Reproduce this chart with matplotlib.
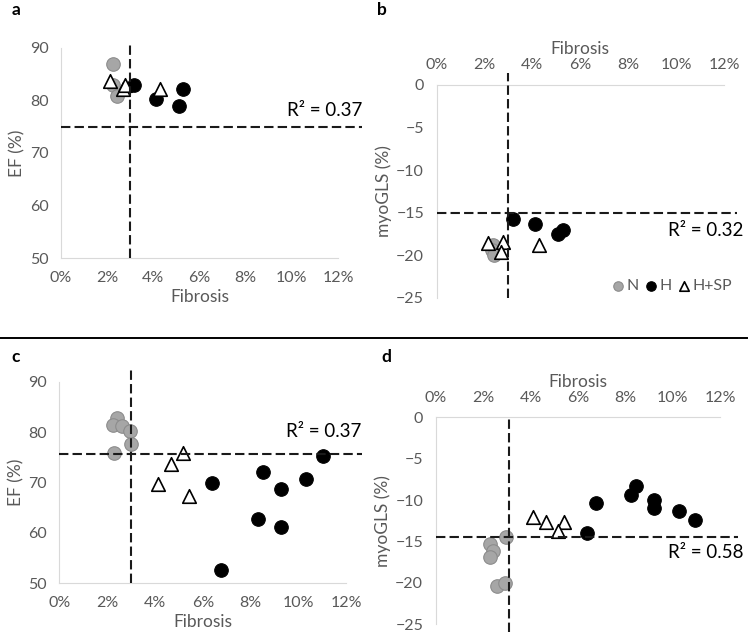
import matplotlib
matplotlib.use('Agg')
import matplotlib.pyplot as plt
from matplotlib.lines import Line2D

plt.rcParams['font.family'] = ['Lato', 'DejaVu Sans']

# panel a: EF vs fibrosis (top row)
a_n_x = [2.27, 2.27, 2.44]
a_n_y = [86.9, 82.9, 80.9]
a_h_x = [3.18, 4.12, 5.30, 5.11]
a_h_y = [82.9, 80.3, 82.1, 78.9]
a_sp_x = [2.12, 2.70, 2.79, 4.29]
a_sp_y = [83.7, 82.1, 82.9, 82.1]

# panel b: myoGLS vs fibrosis (top row)
b_n_x = [2.35, 2.30, 2.38]
b_n_y = [-18.8, -19.4, -20.0]
b_h_x = [3.20, 4.13, 5.08, 5.28]
b_h_y = [-15.8, -16.3, -17.5, -17.1]
b_sp_x = [2.16, 2.78, 2.69, 4.27]
b_sp_y = [-18.6, -18.4, -19.6, -18.8]

# panel c: EF vs fibrosis (bottom row)
c_n_x = [2.42, 2.23, 2.60, 2.95, 2.98, 2.29]
c_n_y = [82.7, 81.5, 81.2, 80.2, 77.6, 75.8]
c_h_x = [6.37, 6.74, 8.50, 8.30, 9.27, 9.27, 10.31, 11.01]
c_h_y = [70.0, 52.6, 72.0, 62.8, 68.7, 61.2, 70.7, 75.3]
c_sp_x = [5.15, 4.65, 4.13, 5.43]
c_sp_y = [75.8, 73.6, 69.7, 67.3]

# panel d: myoGLS vs fibrosis (bottom row)
d_n_x = [2.97, 2.29, 2.43, 2.29, 2.57, 2.92]
d_n_y = [-14.5, -15.3, -16.1, -16.9, -20.4, -20.05]
d_h_x = [6.38, 6.75, 8.26, 8.47, 9.20, 9.20, 10.26, 10.96]
d_h_y = [-14.0, -10.3, -9.4, -8.3, -10.0, -10.9, -11.3, -12.4]
d_sp_x = [4.10, 4.64, 5.41, 5.15]
d_sp_y = [-12.1, -12.6, -12.7, -13.7]

x_ticks = [0, 2, 4, 6, 8, 10, 12]
x_labels = ['0%', '2%', '4%', '6%', '8%', '10%', '12%']
ef_ticks = [50, 60, 70, 80, 90]
gls_ticks = [-25, -20, -15, -10, -5, 0]

GRAY_TXT = '#595959'
GRAY_AX = '#d9d9d9'


def scatter_groups(ax, nx, ny, hx, hy, spx, spy):
    ax.scatter(nx, ny, s=95, color='#a6a6a6', edgecolor='#8c8c8c', linewidth=0.8, zorder=3, label='N')
    ax.scatter(hx, hy, s=95, color='black', edgecolor='black', linewidth=0.8, zorder=3, label='H')
    ax.scatter(spx, spy, s=95, marker='^', color='white', edgecolor='black', linewidth=1.2, zorder=4, label='H+SP')


def style_axis(ax, top_x, yticks, ylabel):
    ax.set_xlim(0, 12)
    ax.set_xticks(x_ticks)
    ax.set_xticklabels(x_labels)
    ax.set_yticks(yticks)
    ax.set_ylim(yticks[0], yticks[-1])
    for side in ['right', 'top', 'bottom', 'left']:
        ax.spines[side].set_visible(False)
    ax.spines['left'].set_visible(True)
    ax.spines['left'].set_color(GRAY_AX)
    xs = 'top' if top_x else 'bottom'
    ax.spines[xs].set_visible(True)
    ax.spines[xs].set_color(GRAY_AX)
    ax.tick_params(length=0, labelsize=11.5, colors=GRAY_TXT)
    ax.tick_params(axis='x', pad=9)
    ax.tick_params(axis='y', pad=9)
    if top_x:
        ax.xaxis.tick_top()
        ax.xaxis.set_label_position('top')
    ax.set_xlabel('Fibrosis', fontsize=12.5, color=GRAY_TXT, labelpad=3)
    ax.set_ylabel(ylabel, fontsize=12.5, color=GRAY_TXT, labelpad=3)


def cut_lines(ax, xcut, ycut, vmin, vmax, hmax):
    ax.axvline(xcut, ymin=vmin, ymax=vmax, color='#1a1a1a', lw=1.5, linestyle=(0, (4.5, 2.0)), clip_on=False, zorder=5)
    ax.axhline(ycut, xmin=0, xmax=hmax, color='#1a1a1a', lw=1.5, linestyle=(0, (4.5, 2.0)), clip_on=False, zorder=5)


def main():
    fig = plt.figure(figsize=(7.49, 6.35), dpi=100)

    ax_a = fig.add_axes([0.0814, 0.5937, 0.3698, 0.3312])
    ax_b = fig.add_axes([0.5828, 0.5312, 0.3838, 0.3350])
    ax_c = fig.add_axes([0.0794, 0.0814, 0.3829, 0.3175])
    ax_d = fig.add_axes([0.5817, 0.0169, 0.3796, 0.3260])

    scatter_groups(ax_a, a_n_x, a_n_y, a_h_x, a_h_y, a_sp_x, a_sp_y)
    style_axis(ax_a, False, ef_ticks, 'EF (%)')
    cut_lines(ax_a, 3.0, 75.0, 0, 1.028, 1.086)
    ax_a.text(0.815, 0.70, 'R² = 0.37', transform=ax_a.transAxes, fontsize=13.5, ha='left', va='center')

    scatter_groups(ax_b, b_n_x, b_n_y, b_h_x, b_h_y, b_sp_x, b_sp_y)
    style_axis(ax_b, True, gls_ticks, 'myoGLS (%)')
    cut_lines(ax_b, 3.0, -15.0, 0, 1.058, 1.044)
    ax_b.text(0.805, 0.318, 'R² = 0.32', transform=ax_b.transAxes, fontsize=13.5, ha='left', va='center')
    ax_b.legend(loc='center right', bbox_to_anchor=(1.055, 0.055), ncol=3, frameon=False,
                markerscale=0.7, handletextpad=0.15, columnspacing=0.45, borderpad=0,
                handlelength=0.7, fontsize=11.5, labelcolor=GRAY_TXT)

    scatter_groups(ax_c, c_n_x, c_n_y, c_h_x, c_h_y, c_sp_x, c_sp_y)
    style_axis(ax_c, False, ef_ticks, 'EF (%)')
    cut_lines(ax_c, 3.0, 75.6, 0, 1.058, 1.054)
    ax_c.text(0.79, 0.755, 'R² = 0.37', transform=ax_c.transAxes, fontsize=13.5, ha='left', va='center')

    scatter_groups(ax_d, d_n_x, d_n_y, d_h_x, d_h_y, d_sp_x, d_sp_y)
    style_axis(ax_d, True, gls_ticks, 'myoGLS (%)')
    cut_lines(ax_d, 3.1, -14.5, -0.036, 1.0, 1.064)
    ax_d.text(0.818, 0.345, 'R² = 0.58', transform=ax_d.transAxes, fontsize=13.5, ha='left', va='center')

    # separator between the two rows
    fig.add_artist(Line2D([0, 747 / 749], [1 - 338 / 635] * 2, color='black', lw=1.4))

    for lab, (x, y) in zip(['a', 'b', 'c', 'd'],
                           [(16, 10), (382, 10), (16, 357), (386, 357)]):
        fig.text(x / 749, 1 - y / 635, lab, fontsize=12.5, fontweight='bold', ha='center', va='center')

    fig.savefig('out.png', dpi=100)


if __name__ == '__main__':
    main()
